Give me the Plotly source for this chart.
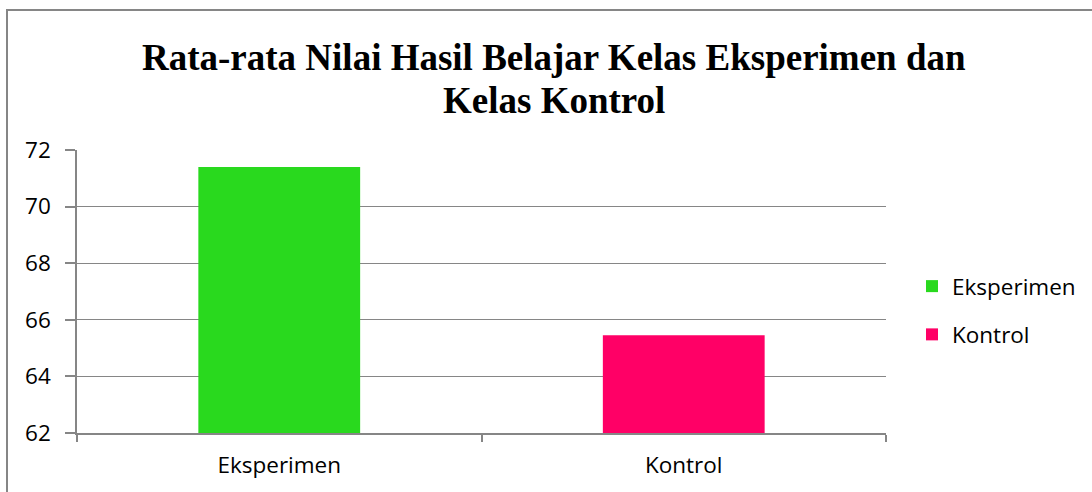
import plotly.graph_objects as go

categories = ["Eksperimen", "Kontrol"]
values = [71.4, 65.45]
colors = ["#29D91E", "#FF0066"]
y_ticks = [62, 64, 66, 68, 70, 72]
title_lines = ["Rata-rata Nilai Hasil Belajar Kelas Eksperimen dan", "Kelas Kontrol"]

W, H = 1092, 492
L, R, T, B = 77, 206, 150, 59
pw, ph = W - L - R, H - T - B

def px_x(x):
    return (x - L) / pw

def px_y(y):
    return (H - B - y) / ph

fig = go.Figure()
for i, (c, v, col) in enumerate(zip(categories, values, colors)):
    fig.add_trace(go.Bar(
        x=[c], y=[v], name=c, marker=dict(color=col, line=dict(width=0)),
        width=0.4, legendgroup=f"g{i}",
    ))

grid = "#868686"
font_axis = dict(family="Open Sans", size=22.5, color="#000000")
fig.update_layout(
    width=W, height=H,
    margin=dict(l=L, r=R, t=T, b=B, pad=0, autoexpand=False),
    paper_bgcolor="white", plot_bgcolor="white",
    barmode="overlay",
    showlegend=True,
    legend=dict(
        x=px_x(912), xanchor="left", y=px_y(310.5), yanchor="middle",
        font=font_axis, traceorder="grouped", tracegroupgap=16,
        bgcolor="rgba(0,0,0,0)", itemwidth=30,
    ),
    xaxis=dict(
        categoryorder="array", categoryarray=categories,
        showline=True, linecolor=grid, linewidth=1.5,
        ticks="outside", tickson="boundaries", ticklen=7, tickcolor=grid, tickwidth=1.5,
        showgrid=False, tickfont=font_axis, ticklabelstandoff=11,
    ),
    yaxis=dict(
        range=[62, 72], tickvals=y_ticks, ticktext=[str(t) for t in y_ticks],
        showline=True, linecolor=grid, linewidth=1.5,
        ticks="outside", ticklen=10, tickcolor=grid, tickwidth=1.5,
        showgrid=True, gridcolor=grid, gridwidth=1.3,
        tickfont=font_axis, ticklabelstandoff=10, zeroline=False,
    ),
)

tfont = dict(family="Liberation Serif", size=37, color="#000000")
for text, yc in zip(title_lines, [57, 100]):
    fig.add_annotation(
        text=f"<b>{text}</b>", xref="paper", yref="paper",
        x=px_x(554), y=px_y(yc), xanchor="center", yanchor="middle",
        showarrow=False, font=tfont,
    )

fig.add_shape(
    type="rect", xref="paper", yref="paper",
    x0=px_x(7), x1=px_x(1200), y0=px_y(600), y1=px_y(10),
    line=dict(color=grid, width=2), layer="above",
)

fig.write_html("out.html", config={"displayModeBar": False},
               post_script="document.body.style.margin='0px';")
